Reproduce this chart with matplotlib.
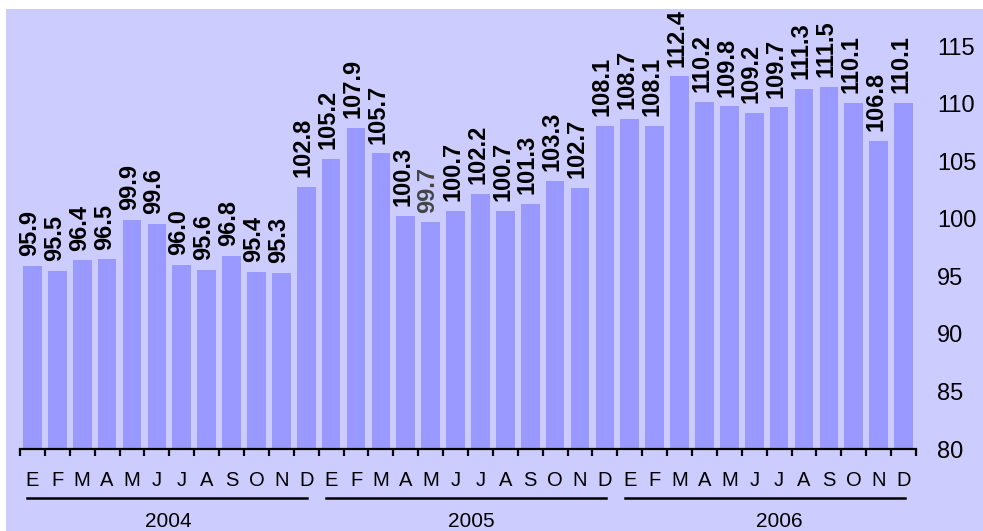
import matplotlib.pyplot as plt
import matplotlib.transforms as mtransforms
from matplotlib.patches import Rectangle
import numpy as np

plt.rcParams['font.family'] = ['Liberation Sans', 'DejaVu Sans']

months = ['E', 'F', 'M', 'A', 'M', 'J', 'J', 'A', 'S', 'O', 'N', 'D']
years = ['2004', '2005', '2006']

v2004 = [95.9, 95.5, 96.4, 96.5, 99.9, 99.6, 96.0, 95.6, 96.8, 95.4, 95.3, 102.8]
v2005 = [105.2, 107.9, 105.7, 100.3, 99.7, 100.7, 102.2, 100.7, 101.3, 103.3, 102.7, 108.1]
v2006 = [108.7, 108.1, 112.4, 110.2, 109.8, 109.2, 109.7, 111.3, 111.5, 110.1, 106.8, 110.1]

values = v2004 + v2005 + v2006
labels = months * 3
# the one label drawn in grey in the original
grey_label = 16

bg = '#ccccff'
bar_col = '#9999ff'

fig = plt.figure(figsize=(9.83, 5.31), dpi=100)
fig.patch.set_facecolor('white')
panel = Rectangle((6 / 983, 0), 1, (531 - 9) / 531, transform=fig.transFigure,
                  facecolor=bg, edgecolor='none')
panel.set_zorder(-10)
fig.add_artist(panel)

ax = fig.add_axes([20 / 983, (531 - 449) / 531, 896 / 983, 440 / 531])
ax.set_zorder(1)
ax.patch.set_alpha(0)

x = np.arange(len(values))
ax.bar(x, np.array(values) - 80, bottom=80, width=0.75, color=bar_col, zorder=2)

for i, v in enumerate(values):
    ax.annotate(f'{v:.1f}', (i, v), xytext=(-2, 7), textcoords='offset points',
                rotation=90, ha='center', va='bottom', fontsize=17,
                fontweight='bold', color='#444444' if i == grey_label else 'black')

ax.set_xlim(-0.5, len(values) - 0.5)
ax.set_ylim(80, 118.26)

for s in ['top', 'left', 'right']:
    ax.spines[s].set_visible(False)
ax.spines['bottom'].set_linewidth(1.6)

# ticks at the bar boundaries, month letters in between
ax.set_xticks(np.arange(len(values) + 1) - 0.5)
ax.set_xticklabels([])
ax.tick_params(axis='x', which='major', direction='out', length=5, width=1.6)
ax.set_xticks(x, minor=True)
ax.set_xticklabels(labels, minor=True, fontsize=14.5)
ax.tick_params(axis='x', which='minor', length=0, pad=16)

ax.yaxis.tick_right()
ax.set_yticks([80, 85, 90, 95, 100, 105, 110, 115])
ax.tick_params(axis='y', length=0, pad=15, labelsize=17)

trans = mtransforms.blended_transform_factory(ax.transData, ax.transAxes)
year_x = [5.44, 17.65, 30.0]
for k, yr in enumerate(years):
    start = 12 * k - 0.5 + 0.3
    end = 12 * k + 11.5 - 0.45
    ax.plot([start, end], [-0.111, -0.111], transform=trans, color='black',
            lw=1.8, clip_on=False)
    ax.text(year_x[k], -0.164, yr, transform=trans, ha='center', va='center',
            fontsize=15)

fig.savefig('out.png', dpi=100, facecolor=fig.get_facecolor())
